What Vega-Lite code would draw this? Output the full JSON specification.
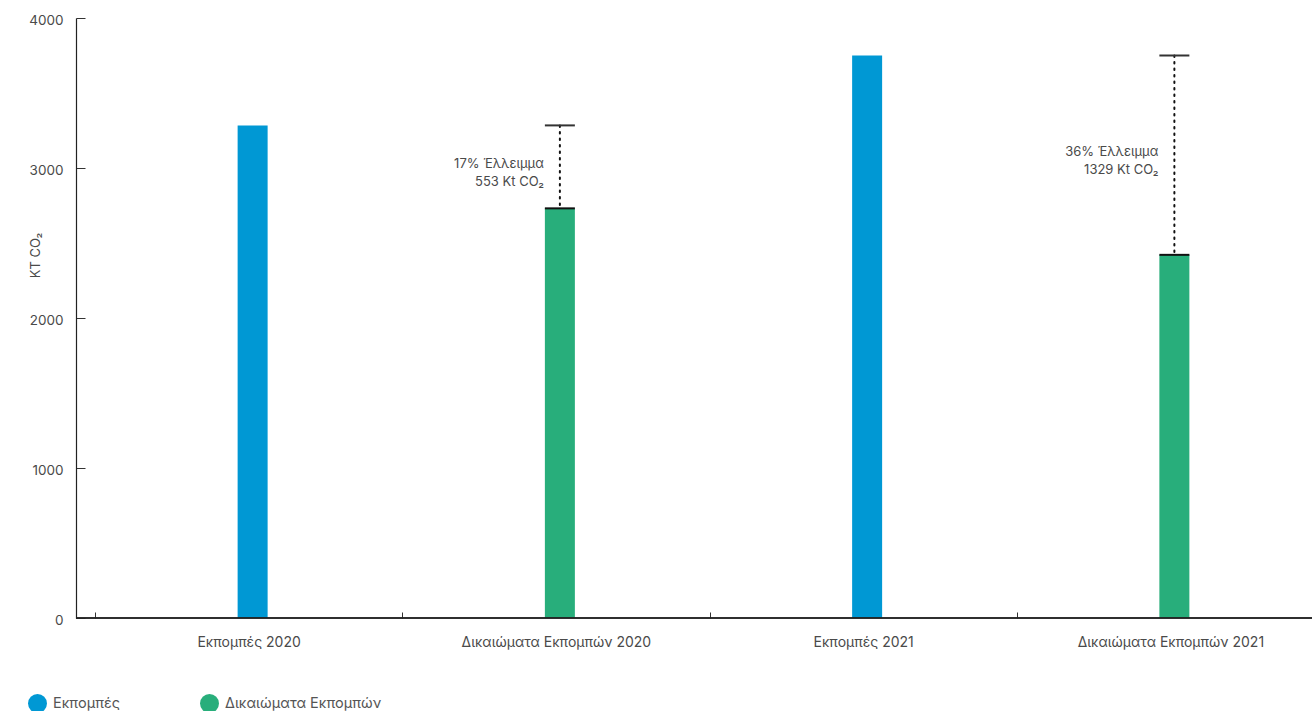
{
  "$schema": "https://vega.github.io/schema/vega-lite/v6.json",
  "width": 1236,
  "height": 600,
  "autosize": {"type": "none"},
  "padding": {"left": 76, "top": 18, "right": 0, "bottom": 93},
  "background": "white",
  "config": {
    "view": {"stroke": null},
    "font": "Inter",
    "axis": {"labelFont": "Inter", "titleFont": "Inter", "labelColor": "#4a4a4a", "titleColor": "#4a4a4a", "domainColor": "#222", "tickColor": "#333", "grid": false}
  },
  "datasets": {
    "bars": [
      {"cat": "Εκπομπές 2020", "value": 3284, "series": "Εκπομπές"},
      {"cat": "Δικαιώματα Εκπομπών 2020", "value": 2731, "series": "Δικαιώματα Εκπομπών"},
      {"cat": "Εκπομπές 2021", "value": 3750, "series": "Εκπομπές"},
      {"cat": "Δικαιώματα Εκπομπών 2021", "value": 2421, "series": "Δικαιώματα Εκπομπών"}
    ],
    "gaps": [
      {"cat": "Δικαιώματα Εκπομπών 2020", "top": 3284, "bottom": 2731, "l1": "17% Έλλειμμα", "l2": "553 Kt CO₂"},
      {"cat": "Δικαιώματα Εκπομπών 2021", "top": 3750, "bottom": 2421, "l1": "36% Έλλειμμα", "l2": "1329 Kt CO₂"}
    ]
  },
  "encoding": {
    "x": {
      "field": "cat", "type": "nominal", "sort": null,
      "scale": {"range": [23, 1252], "paddingInner": 0, "paddingOuter": 0},
      "axis": {"title": null, "labelAngle": 0, "labelFontSize": 14, "labelLimit": 400, "labelPadding": 23, "tickSize": -6, "bandPosition": 0, "tickOffset": -4, "domain": false}
    }
  },
  "layer": [
    {
      "data": {"name": "bars"},
      "mark": {"type": "bar", "width": 30},
      "encoding": {
        "y": {
          "field": "value", "type": "quantitative",
          "scale": {"domain": [0, 4000], "nice": false},
          "axis": {"values": [0, 1000, 2000, 3000, 4000], "format": "d", "title": "KT CO₂", "titleFontSize": 13, "titleFontWeight": "normal", "titleX": -41, "titleY": 237, "titleAngle": -90, "titleAlign": "center", "titleBaseline": "middle", "labelFontSize": 13.5, "labelPadding": 22, "tickSize": -9, "labelOffset": 2, "domainWidth": 1.2}
        },
        "color": {
          "field": "series", "type": "nominal",
          "scale": {"domain": ["Εκπομπές", "Δικαιώματα Εκπομπών"], "range": ["#0098d4", "#28ae7b"]},
          "legend": {"title": null, "orient": "none", "direction": "horizontal", "legendX": -48, "legendY": 676, "symbolType": "circle", "symbolSize": 360, "symbolStrokeWidth": 0, "symbolOpacity": 1, "labelFontSize": 14.5, "labelColor": "#555", "labelFont": "Inter", "labelOffset": 6, "columnPadding": 80}
        }
      }
    },
    {
      "data": {"name": "bars"},
      "mark": {"type": "rule", "color": "#222", "strokeWidth": 1.2},
      "encoding": {"x": null, "y": {"datum": 0, "type": "quantitative"}}
    },
    {
      "data": {"name": "gaps"},
      "mark": {"type": "rule", "color": "#111", "strokeWidth": 2, "strokeDash": [1.5, 5], "strokeCap": "round"},
      "encoding": {"y": {"field": "top", "type": "quantitative"}, "y2": {"field": "bottom"}}
    },
    {
      "data": {"name": "gaps"},
      "mark": {"type": "tick", "orient": "horizontal", "size": 30, "thickness": 2, "color": "#333", "opacity": 1},
      "encoding": {"y": {"field": "top", "type": "quantitative"}}
    },
    {
      "data": {"name": "gaps"},
      "mark": {"type": "tick", "orient": "horizontal", "size": 30, "thickness": 2, "color": "#111", "opacity": 1},
      "encoding": {"y": {"field": "bottom", "type": "quantitative"}}
    },
    {
      "data": {"name": "gaps"},
      "transform": [{"calculate": "(datum.top + datum.bottom) / 2", "as": "mid"}],
      "mark": {"type": "text", "align": "right", "baseline": "middle", "dx": -16, "dy": -3, "fontSize": 13, "color": "#4a4a4a", "font": "Inter"},
      "encoding": {"y": {"field": "mid", "type": "quantitative"}, "text": {"field": "l1"}}
    },
    {
      "data": {"name": "gaps"},
      "transform": [{"calculate": "(datum.top + datum.bottom) / 2", "as": "mid"}],
      "mark": {"type": "text", "align": "right", "baseline": "middle", "dx": -16, "dy": 15, "fontSize": 13, "color": "#4a4a4a", "font": "Inter"},
      "encoding": {"y": {"field": "mid", "type": "quantitative"}, "text": {"field": "l2"}}
    }
  ]
}
